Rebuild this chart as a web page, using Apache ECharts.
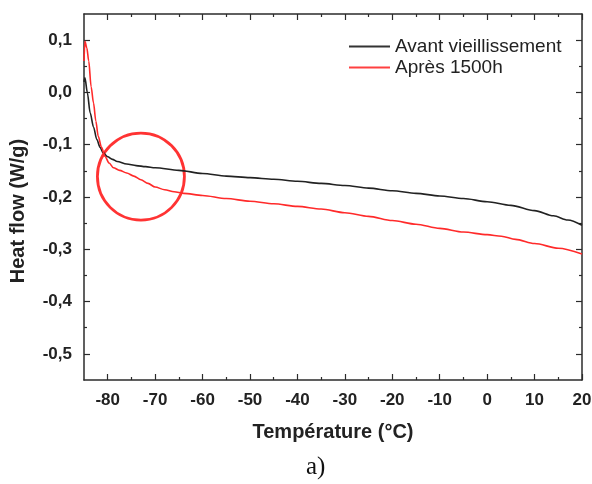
<!DOCTYPE html>
<html>
<head>
<meta charset="utf-8">
<script src="https://cdn.jsdelivr.net/npm/echarts@6/dist/echarts.min.js"></script>
<style>
html, body { margin: 0; padding: 0; background: #fff; }
#chart { width: 592px; height: 484px; }
</style>
</head>
<body>
<div id="chart"></div>
<script>
// Avant vieillissement (black)
var tempAvant = [-85, -84.8, -84.3, -83.7, -83, -82.3, -81.6, -81, -80, -79, -78, -76, -74, -72, -70, -65, -60, -55, -50, -45, -40, -35, -30, -25, -20, -15, -10, -5, 0, 5, 10, 14, 17, 20];
var flowAvant = [0.02, 0.028, 0.0, -0.039, -0.066, -0.09, -0.105, -0.115, -0.123, -0.128, -0.132, -0.137, -0.14, -0.142, -0.144, -0.149, -0.155, -0.16, -0.163, -0.166, -0.17, -0.174, -0.178, -0.183, -0.188, -0.193, -0.198, -0.203, -0.209, -0.216, -0.226, -0.236, -0.244, -0.254];
// Après 1500h (red)
var tempApres = [-85, -84.8, -84.4, -84, -83.5, -83, -82.5, -82, -81.3, -80.6, -79.7, -78.8, -77.5, -76, -74.5, -73, -71.5, -70, -68, -66, -64, -60, -55, -50, -45, -40, -35, -30, -25, -20, -15, -10, -5, 0, 3, 6, 10, 15, 20];
var flowApres = [0.06, 0.098, 0.085, 0.06, 0.011, -0.02, -0.055, -0.084, -0.105, -0.122, -0.135, -0.144, -0.149, -0.154, -0.16, -0.167, -0.174, -0.181, -0.186, -0.19, -0.193, -0.197, -0.203, -0.208, -0.213, -0.218, -0.223, -0.23, -0.237, -0.245, -0.252, -0.26, -0.267, -0.272, -0.275, -0.281, -0.289, -0.298, -0.309];
// highlighted zone (circle)
var circleTemp = [-73];
var circleFlow = [-0.161];

var xMajor = [-80, -70, -60, -50, -40, -30, -20, -10, 0, 10, 20];
var xMinor = [-75, -65, -55, -45, -35, -25, -15, -5, 5, 15];
var yMajor = [-0.5, -0.4, -0.3, -0.2, -0.1, 0, 0.1];
var yMinor = [-0.45, -0.35, -0.25, -0.15, -0.05, 0.05];

function pairs(xs, ys) {
	return xs.map(function (x, i) { return [x, ys[i]] })
}

var font = "'Liberation Sans', Arial, sans-serif"
var axisColor = '#2b2b2b'

function xAx(pos, ticks, len, main) {
	return {
		type: 'value', position: pos, min: -85, max: 20,
		axisLine: { show: main, onZero: false, lineStyle: { color: axisColor, width: 1.5 } },
		axisTick: { inside: true, length: len, customValues: ticks, lineStyle: { color: axisColor, width: 1.2 } },
		axisLabel: { show: false },
		splitLine: { show: false }
	}
}
function yAx(pos, ticks, len, main) {
	return {
		type: 'value', position: pos, min: -0.55, max: 0.15,
		axisLine: { show: main, onZero: false, lineStyle: { color: axisColor, width: 1.5 } },
		axisTick: { inside: true, length: len, customValues: ticks, lineStyle: { color: axisColor, width: 1.2 } },
		axisLabel: { show: false },
		splitLine: { show: false }
	}
}

var xBottom = xAx('bottom', xMajor, 6, true)
xBottom.axisLabel = {
	show: true, customValues: xMajor, margin: 12,
	color: '#222', fontFamily: font, fontSize: 17, fontWeight: 'bold'
}
xBottom.name = 'Température (°C)'
xBottom.nameLocation = 'middle'
xBottom.nameGap = 42
xBottom.nameTextStyle = { color: '#222', fontFamily: font, fontSize: 20, fontWeight: 'bold' }

var yLeft = yAx('left', yMajor, 6, true)
yLeft.axisLabel = {
	show: true, customValues: yMajor, margin: 12,
	color: '#222', fontFamily: font, fontSize: 17, fontWeight: 'bold',
	formatter: function (v) { return v.toFixed(1).replace('.', ',') }
}
yLeft.name = 'Heat flow (W/g)'
yLeft.nameLocation = 'middle'
yLeft.nameGap = 56
yLeft.nameTextStyle = { color: '#222', fontFamily: font, fontSize: 20, fontWeight: 'bold', padding: [0, 28, 0, 0] }

var chart = echarts.init(document.getElementById('chart'))
var option = {
	animation: false,
	backgroundColor: '#fff',
	grid: { left: 84, right: 10, top: 14, bottom: 104, containLabel: false, outerBoundsMode: 'none' },
	legend: {
		orient: 'vertical', left: 344, top: 32,
		icon: 'rect', itemWidth: 41, itemHeight: 2, itemGap: 2,
		data: ['Avant vieillissement', 'Après 1500h'],
		textStyle: { color: '#222', fontFamily: font, fontSize: 19 }
	},
	xAxis: [
		xBottom,
		xAx('bottom', xMinor, 3, false),
		xAx('top', xMajor, 6, true),
		xAx('top', xMinor, 3, false)
	],
	yAxis: [
		yLeft,
		yAx('left', yMinor, 3, false),
		yAx('right', yMajor, 6, true),
		yAx('right', yMinor, 3, false)
	],
	graphic: [{
		type: 'text', left: 306, top: 455,
		style: { text: 'a)', font: '25px "Liberation Serif", "Times New Roman", serif', fill: '#111' }
	}],
	series: [
		{
			name: 'Avant vieillissement', type: 'line', symbol: 'none',
			smooth: 0.3, smoothMonotone: 'x',
			lineStyle: { color: '#222', width: 1.6 }, itemStyle: { color: '#333' },
			data: pairs(tempAvant, flowAvant)
		},
		{
			name: 'Après 1500h', type: 'line', symbol: 'none',
			smooth: 0.3, smoothMonotone: 'x',
			lineStyle: { color: '#ff2a2a', width: 1.6 }, itemStyle: { color: '#ff4040' },
			data: pairs(tempApres, flowApres)
		},
		{
			name: 'zone', type: 'scatter', symbol: 'circle', symbolSize: 87,
			itemStyle: { color: 'rgba(0,0,0,0)', borderColor: '#ff0000', borderWidth: 2.8 },
			silent: true,
			data: pairs(circleTemp, circleFlow)
		}
	]
}
chart.setOption(option)
</script>
</body>
</html>
